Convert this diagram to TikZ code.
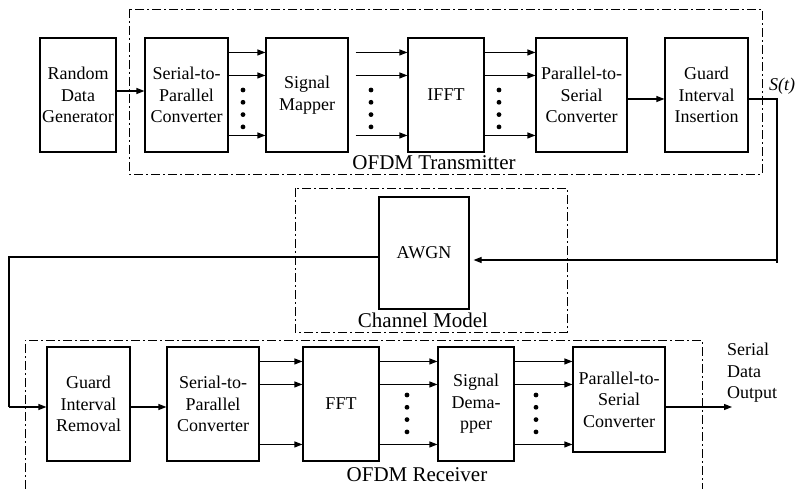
\documentclass[tikz,border=0pt]{standalone}
\usepackage{fontspec}
\setmainfont{Liberation Serif}
\usetikzlibrary{arrows.meta,calc}
\tikzset{
	blk/.style={draw, line width=1.1pt, align=center, inner sep=0pt, font=\fontsize{18}{21.5}\selectfont},
	sig/.style={line width=1.1pt, -{Triangle[length=8pt,width=6pt]}},
	wire/.style={line width=1.1pt},
	grp/.style={line width=0.9pt, dash pattern=on 9pt off 3pt on 2pt off 3pt},
	grplabel/.style={inner sep=0pt, font=\fontsize{21}{25}\selectfont},
	txtlabel/.style={inner sep=0pt, align=left, font=\fontsize{18}{21.5}\selectfont},
}
% column of four dots between the parallel lines
\def\dotcol(#1,#2){\foreach \k in {0,...,3} \fill (#1,#2+12.3*\k) circle (2.4);}
% three parallel arrows from box #1 to box #2, #3 = gap after #1
\def\parlines(#1,#2,#3){\foreach \dy in {15pt,38pt,98pt} \draw[sig] ([xshift=#3,yshift=-\dy]#1.north east) -- ([yshift=-\dy]#2.north west);}

\begin{document}
\begin{tikzpicture}[x=1pt,y=-1pt]
		%%%%% START %%%%%
		\useasboundingbox (0,0) rectangle (806,489);
		
		% transmitter
		\draw[grp] (129,9) rectangle (762,174);
		\node[grplabel] (txlbl) at (434,163) {OFDM Transmitter};
		
		\node[blk, minimum width=76, minimum height=114] (rdg) at (78,95) {Random\\Data\\Generator};
		\node[blk, minimum width=83, minimum height=114] (sp1) at (186.5,95) {Serial-to-\\Parallel\\Converter};
		\node[blk, minimum width=82, minimum height=114] (map) at (307,95) {Signal\\Mapper};
		\node[blk, minimum width=76, minimum height=114] (ifft) at (446,95) {IFFT};
		\node[blk, minimum width=91, minimum height=114] (ps1) at (581.5,95) {Parallel-to-\\Serial\\Converter};
		\node[blk, minimum width=83, minimum height=114] (gi) at (706.5,95) {Guard\\Interval\\Insertion};
		
		\draw[sig] ([yshift=4pt]rdg.east) -- ([yshift=4pt]sp1.west);
		\parlines(sp1,map,0pt)
		\parlines(map,ifft,7pt)
		\parlines(ifft,ps1,0pt)
		\dotcol(243,90)
		\dotcol(371,90)
		\dotcol(499,90)
		\draw[sig] ([yshift=-4pt]ps1.east) -- ([yshift=-4pt]gi.west);
		
		\node[anchor=west, inner sep=0pt, font=\fontsize{18}{21.5}\selectfont\itshape] (st) at (769,86) {S(t)};
		
		% channel
		\draw[grp] (295,188) rectangle (567,332);
		\node[grplabel] (chlbl) at (423,320) {Channel Model};
		\node[blk, minimum width=90, minimum height=112] (awgn) at (424,253) {AWGN};
		
		\coordinate (down) at (777,260);
		\coordinate (ret) at (9,407);
		\draw[wire] ([yshift=-4pt]gi.east) -| ([yshift=-3pt]down);
		\draw[sig, shorten >=4pt] (down) -- (down -| awgn.east);
		\draw[wire] ([yshift=-4pt]awgn.west) -| (ret);
		
		% receiver
		\draw[grp] (25,489) -- (25,340) -- (702,340) -- (702,489);
		\node[grplabel] (rxlbl) at (417,475) {OFDM Receiver};
		
		\node[blk, minimum width=83, minimum height=114] (gr) at (88.5,404) {Guard\\Interval\\Removal};
		\node[blk, minimum width=92, minimum height=114] (sp2) at (213,404) {Serial-to-\\Parallel\\Converter};
		\node[blk, minimum width=76, minimum height=114] (fft) at (341,404) {FFT};
		\node[blk, minimum width=76, minimum height=114] (dem) at (476,404) {Signal\\Dema-\\pper};
		\node[blk, minimum width=92, minimum height=105] (ps2) at (619,399.5) {Parallel-to-\\Serial\\Converter};
		
		\draw[sig] (ret) -- ([yshift=-3pt]gr.west);
		\draw[sig] ([yshift=-3pt]gr.east) -- ([yshift=-3pt]sp2.west);
		\parlines(sp2,fft,0pt)
		\parlines(fft,dem,0pt)
		\parlines(dem,ps2,0pt)
		\dotcol(407,395)
		\dotcol(536,395)
		
		\coordinate (out) at (732,407);
		\draw[sig] (ps2.east |- out) -- (out);
		\node[txtlabel, anchor=north west] (outlbl) at (727,343) {Serial\\Data\\Output};
		
		%%%%% END %%%%%
\end{tikzpicture}
\end{document}
